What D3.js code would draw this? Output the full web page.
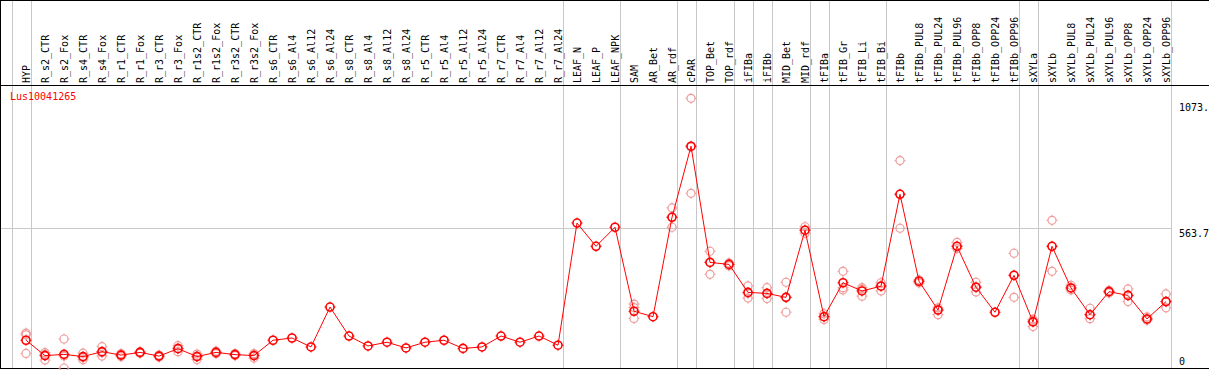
<!DOCTYPE html>
<html>
<head>
<meta charset="utf-8">
<script src="https://cdn.jsdelivr.net/npm/d3@7"></script>
<style>
  body { margin: 0; background: #fff; }
  text { font-family: "DejaVu Sans Mono", monospace; font-size: 10px; }
</style>
</head>
<body>
<div id="chart"></div>
<script>
const geneName = "Lus10041265";

const categories = ["HYP", "R_s2_CTR", "R_s2_Fox", "R_s4_CTR", "R_s4_Fox", "R_r1_CTR", "R_r1_Fox",
  "R_r3_CTR", "R_r3_Fox", "R_r1s2_CTR", "R_r1s2_Fox", "R_r3s2_CTR", "R_r3s2_Fox",
  "R_s6_CTR", "R_s6_Al4", "R_s6_Al12", "R_s6_Al24", "R_s8_CTR", "R_s8_Al4", "R_s8_Al12", "R_s8_Al24",
  "R_r5_CTR", "R_r5_Al4", "R_r5_Al12", "R_r5_Al24", "R_r7_CTR", "R_r7_Al4", "R_r7_Al12", "R_r7_Al24",
  "LEAF_N", "LEAF_P", "LEAF_NPK", "SAM", "AR_Bet", "AR_rdf", "cPAR", "TOP_Bet", "TOP_rdf",
  "iFIBa", "iFIBb", "MID_Bet", "MID_rdf", "tFIBa", "tFIB_Gr", "tFIB_Li", "tFIB_Bi",
  "tFIBb", "tFIBb_PUL8", "tFIBb_PUL24", "tFIBb_PUL96", "tFIBb_OPP8", "tFIBb_OPP24", "tFIBb_OPP96",
  "sXYLa", "sXYLb", "sXYLb_PUL8", "sXYLb_PUL24", "sXYLb_PUL96", "sXYLb_OPP8", "sXYLb_OPP24", "sXYLb_OPP96"];

// mean expression per sample
const means = [112, 50, 55, 46, 66, 52, 63, 48, 78, 46, 63, 54, 50,
  112, 121, 85, 246, 129, 89, 104, 81, 104, 112, 79, 85, 129, 104, 129, 92,
  585, 491, 568, 229, 207, 608, 895, 426, 418,
  305, 301, 285, 556, 207, 344, 311, 330,
  701, 350, 234, 491, 326, 225, 374,
  186, 491, 323, 215, 308, 293, 198, 268];

// individual replicates (same order as categories)
const replicates = [
  [141, 134, 59], [62, 55, 32], [117, 48, 0], [60, 42, 33], [86, 62, 48], [58, 52, 46], [66, 62, 60],
  [52, 48, 44], [90, 80, 66], [56, 48, 34], [68, 62, 58], [58, 54, 50], [58, 52, 40],
  [], [], [], [], [], [], [], [], [], [], [], [], [], [], [], [],
  [], [], [], [258, 244, 200], [], [646, 610, 568], [1088, 892, 705], [471, 428, 378], [424, 418, 412],
  [331, 302, 282], [324, 300, 280], [346, 285, 225], [570, 556, 544], [219, 207, 196], [390, 324, 315],
  [324, 318, 290], [344, 332, 311],
  [837, 701, 564], [356, 350, 343], [243, 234, 215], [507, 491, 482], [346, 326, 307], [], [463, 374, 285],
  [196, 190, 167], [596, 491, 390], [334, 323, 315], [241, 215, 199], [313, 308, 303], [319, 293, 268],
  [206, 198, 193], [299, 268, 243]];

// group separators drawn after these samples
const groupEnds = ["HYP", "R_r7_Al24", "LEAF_NPK", "AR_rdf", "cPAR", "TOP_rdf", "iFIBa", "iFIBb",
  "MID_rdf", "tFIBa", "tFIB_Bi", "tFIBb_OPP96", "sXYLa", "sXYLb_OPP96"];

const tickValues = [0, 563.7, 1073.4];
const tickLabels = ["0", "563.7", "1073."];

const width = 1209, height = 370;
const headerH = 85, bottom = 368;

const svg = d3.select("#chart").append("svg")
  .attr("width", width)
  .attr("height", height);

const x = d3.scalePoint()
  .domain(categories)
  .range([26, 1166]);

const y = d3.scaleLinear()
  .domain([0, 1127.4])
  .range([bottom, 88.6]);

const step = x.step();

// separators
const sepX = [x(categories[0]) - step + 4.5].concat(groupEnds.map(c => x(c) + 4.5));
svg.selectAll(".sep")
  .data(sepX)
  .enter().append("line")
  .attr("x1", d => Math.round(d) + 0.5)
  .attr("x2", d => Math.round(d) + 0.5)
  .attr("y1", 0)
  .attr("y2", bottom)
  .attr("stroke", "#c8c8c8");

// mid gridline
svg.append("line")
  .attr("x1", 0).attr("x2", Math.round(x(categories[categories.length - 1]) + 4.5) + 0.5)
  .attr("y1", Math.round(y(563.7)) + 0.5).attr("y2", Math.round(y(563.7)) + 0.5)
  .attr("stroke", "#c8c8c8");

// frame
svg.append("line").attr("x1", 0).attr("x2", width).attr("y1", 0.5).attr("y2", 0.5).attr("stroke", "#000");
svg.append("line").attr("x1", 0).attr("x2", width).attr("y1", headerH + 0.5).attr("y2", headerH + 0.5).attr("stroke", "#000");
svg.append("line").attr("x1", 0).attr("x2", width).attr("y1", bottom + 0.5).attr("y2", bottom + 0.5).attr("stroke", "#000");
svg.append("line").attr("x1", 0.5).attr("x2", 0.5).attr("y1", 0).attr("y2", bottom + 1).attr("stroke", "#000");

// sample labels
svg.selectAll(".lab")
  .data(categories)
  .enter().append("text")
  .attr("transform", d => `translate(${x(d) + 3.5},83) rotate(-90)`)
  .attr("fill", "#000")
  .text(d => d);

// gene name
svg.append("text")
  .attr("x", 10).attr("y", 100)
  .attr("fill", "#ff0000")
  .text(geneName);

// right axis labels
svg.selectAll(".tick")
  .data(tickValues)
  .enter().append("text")
  .attr("x", 1179)
  .attr("y", d => Math.min(y(d) + 9, 365))
  .attr("fill", "#000")
  .text((d, i) => tickLabels[i]);

function marker(g, cx, cy, color, sw) {
  g.append("circle")
    .attr("cx", cx).attr("cy", cy).attr("r", 4)
    .attr("fill", "none").attr("stroke", color).attr("stroke-width", sw);
  [[0, -1], [0, 1], [-1, 0], [1, 0]].forEach(([dx, dy]) => {
    g.append("line")
      .attr("x1", cx + dx * 4).attr("y1", cy + dy * 4)
      .attr("x2", cx + dx * 5.5).attr("y2", cy + dy * 5.5)
      .attr("stroke", color).attr("stroke-width", 1);
  });
}

// replicates
const repG = svg.append("g");
categories.forEach((c, i) => {
  replicates[i].forEach(v => marker(repG, x(c), y(v), "#f09a9a", 1.2));
});

// mean line
svg.append("path")
  .datum(means)
  .attr("fill", "none")
  .attr("stroke", "#ff0000")
  .attr("stroke-width", 1)
  .attr("d", d3.line().x((d, i) => x(categories[i])).y(d => y(d)));

// mean markers
const meanG = svg.append("g");
means.forEach((v, i) => marker(meanG, x(categories[i]), y(v), "#ff0000", 1.6));
</script>
</body>
</html>
